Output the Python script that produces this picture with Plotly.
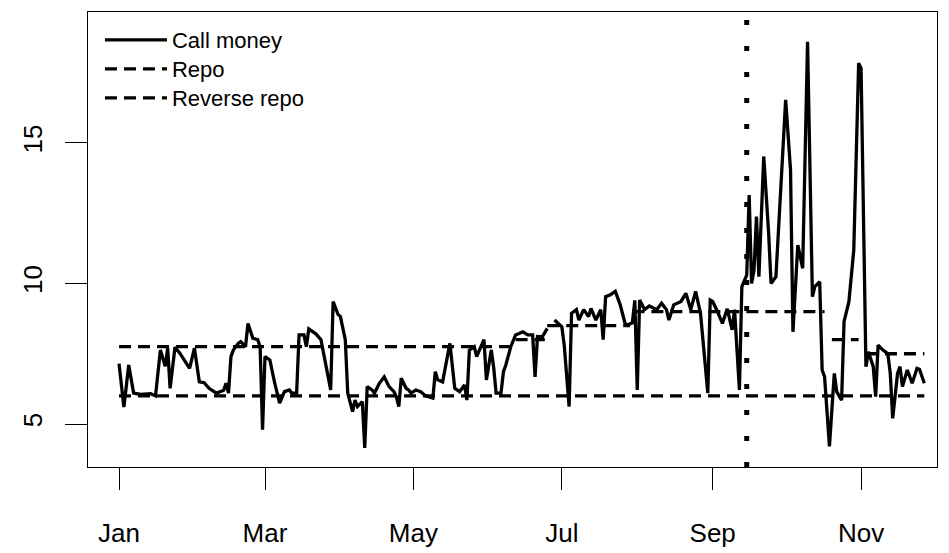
import plotly.graph_objects as go

# ---- data -------------------------------------------------------------
call_dates = [
    "2008-01-01", "2008-01-03", "2008-01-05", "2008-01-07", "2008-01-10", "2008-01-14",
    "2008-01-16", "2008-01-18", "2008-01-20", "2008-01-21", "2008-01-22", "2008-01-24",
    "2008-01-26", "2008-01-30", "2008-02-01", "2008-02-03", "2008-02-05", "2008-02-07",
    "2008-02-10", "2008-02-13", "2008-02-14", "2008-02-15", "2008-02-16", "2008-02-17",
    "2008-02-19", "2008-02-20", "2008-02-22", "2008-02-23", "2008-02-25", "2008-02-27",
    "2008-02-28", "2008-02-29", "2008-03-01", "2008-03-03", "2008-03-05", "2008-03-07",
    "2008-03-09", "2008-03-11", "2008-03-12", "2008-03-14", "2008-03-15", "2008-03-17",
    "2008-03-18", "2008-03-19", "2008-03-22", "2008-03-24", "2008-03-28", "2008-03-29",
    "2008-03-31", "2008-04-01", "2008-04-03", "2008-04-04", "2008-04-06", "2008-04-07",
    "2008-04-08", "2008-04-10", "2008-04-11", "2008-04-12", "2008-04-14", "2008-04-15",
    "2008-04-17", "2008-04-19", "2008-04-21", "2008-04-23", "2008-04-24", "2008-04-25",
    "2008-04-26", "2008-04-28", "2008-04-29", "2008-04-30", "2008-05-02", "2008-05-04",
    "2008-05-06", "2008-05-09", "2008-05-10", "2008-05-11", "2008-05-13", "2008-05-16",
    "2008-05-18", "2008-05-20", "2008-05-22", "2008-05-23", "2008-05-24", "2008-05-26",
    "2008-05-27", "2008-05-30", "2008-05-31", "2008-06-02", "2008-06-03", "2008-06-04",
    "2008-06-06", "2008-06-07", "2008-06-08", "2008-06-10", "2008-06-12", "2008-06-15",
    "2008-06-17", "2008-06-19", "2008-06-20", "2008-06-21", "2008-06-23", "2008-06-25",
    "2008-06-26", "2008-06-28", "2008-07-01", "2008-07-02", "2008-07-04", "2008-07-05",
    "2008-07-07", "2008-07-08", "2008-07-10", "2008-07-12", "2008-07-13", "2008-07-15",
    "2008-07-17", "2008-07-18", "2008-07-19", "2008-07-21", "2008-07-23", "2008-07-25",
    "2008-07-27", "2008-07-28", "2008-07-30", "2008-07-31", "2008-08-01", "2008-08-02",
    "2008-08-04", "2008-08-06", "2008-08-09", "2008-08-11", "2008-08-13", "2008-08-14",
    "2008-08-16", "2008-08-19", "2008-08-21", "2008-08-23", "2008-08-25", "2008-08-27",
    "2008-08-30", "2008-08-31", "2008-09-01", "2008-09-03", "2008-09-05", "2008-09-07",
    "2008-09-09", "2008-09-10", "2008-09-12", "2008-09-13", "2008-09-15", "2008-09-16",
    "2008-09-17", "2008-09-18", "2008-09-19", "2008-09-20", "2008-09-22", "2008-09-24",
    "2008-09-25", "2008-09-27", "2008-09-29", "2008-10-01", "2008-10-03", "2008-10-04",
    "2008-10-06", "2008-10-08", "2008-10-10", "2008-10-12", "2008-10-13", "2008-10-15",
    "2008-10-16", "2008-10-17", "2008-10-19", "2008-10-21", "2008-10-22", "2008-10-24",
    "2008-10-25", "2008-10-27", "2008-10-29", "2008-10-31", "2008-11-01", "2008-11-03",
    "2008-11-04", "2008-11-06", "2008-11-07", "2008-11-08", "2008-11-10", "2008-11-12",
    "2008-11-13", "2008-11-14", "2008-11-16", "2008-11-17", "2008-11-18", "2008-11-20",
    "2008-11-22", "2008-11-24", "2008-11-25", "2008-11-27",
]
call_rate = [
    7.15, 5.60, 7.10, 6.10, 6.05, 6.08,
    6.00, 7.63, 7.05, 7.70, 6.27, 7.73,
    7.52, 6.98, 7.70, 6.50, 6.47, 6.27,
    6.10, 6.20, 6.45, 6.10, 7.40, 7.63,
    7.87, 7.93, 7.75, 8.58, 8.05, 8.00,
    7.75, 4.80, 7.40, 7.28, 6.45, 5.74,
    6.15, 6.21, 6.10, 6.10, 8.17, 8.17,
    7.75, 8.38, 8.20, 8.00, 6.21, 9.36,
    8.90, 8.82, 8.00, 6.10, 5.44, 5.85,
    5.62, 5.80, 4.15, 6.33, 6.21, 6.10,
    6.45, 6.68, 6.33, 6.15, 5.97, 5.62,
    6.63, 6.27, 6.21, 6.10, 6.21, 6.15,
    6.00, 5.92, 6.86, 6.57, 6.50, 7.87,
    6.27, 6.15, 6.39, 5.85, 7.63, 7.75,
    7.40, 8.00, 6.57, 7.63, 7.00, 6.10,
    6.10, 6.86, 7.10, 7.75, 8.17, 8.28,
    8.17, 8.17, 6.68, 8.11, 8.10, 8.40,
    None, 8.70, 8.46, 7.80, 5.62, 8.94,
    9.07, 8.70, 9.07, 8.82, 9.11, 8.70,
    9.07, 8.00, 9.53, 9.60, 9.72, 9.24,
    8.58, 8.52, 8.60, 9.40, 6.21, 9.41,
    9.07, 9.20, 9.07, 9.30, 9.07, 8.70,
    9.24, 9.36, 9.65, 9.07, 9.72, 8.94,
    6.10, 9.41, 9.36, 9.00, 8.58, 9.10,
    8.35, 9.07, 6.21, 9.89, 10.30, 13.15,
    10.00, 10.48, 12.38, 10.24, 14.52, 11.80,
    10.00, 10.24, 13.30, 16.53, 14.04, 8.28,
    11.37, 10.54, 18.60, 9.53, 9.89, 10.06,
    6.92, 6.68, 4.20, 6.80, 6.15, 5.85,
    8.64, 9.35, 11.19, 17.84, 17.66, 7.04,
    7.57, 7.04, 5.97, 7.81, 7.63, 7.50,
    6.80, 5.20, 6.80, 7.04, 6.33, 6.92,
    6.45, 6.98, 6.95, 6.45,
]

repo_start = ["2008-01-01", "2008-06-12", "2008-06-25", "2008-07-30", "2008-10-20", "2008-11-03"]
repo_end = ["2008-06-11", "2008-06-24", "2008-07-29", "2008-10-17", "2008-10-31", "2008-11-27"]
repo_rate = [7.75, 8.00, 8.50, 9.00, 8.00, 7.50]

rev_start = ["2008-01-01"]
rev_end = ["2008-11-27"]
rev_rate = [6.00]

event_date = "2008-09-15"

tick_dates = ["2008-01-01", "2008-03-01", "2008-05-01", "2008-07-01", "2008-09-01", "2008-11-01"]
tick_labels = ["Jan", "Mar", "May", "Jul", "Sep", "Nov"]
y_ticks = [5, 10, 15]


def steps(starts, ends, rates):
    xs, ys = [], []
    for s, e, r in zip(starts, ends, rates):
        xs += [s, e, None]
        ys += [r, r, None]
    return xs, ys


FONT = "Liberation Sans, Arial, Helvetica, sans-serif"
DASH = "12px,7px"
LW = 3.3

fig = go.Figure()
fig.add_trace(go.Scatter(
    x=call_dates, y=call_rate, mode="lines", name="Call money",
    line=dict(color="black", width=LW), connectgaps=False, legend="legend",
))
rx, ry = steps(repo_start, repo_end, repo_rate)
fig.add_trace(go.Scatter(
    x=rx, y=ry, mode="lines", name="Repo",
    line=dict(color="black", width=LW, dash=DASH), connectgaps=False, legend="legend2",
))
vx, vy = steps(rev_start, rev_end, rev_rate)
fig.add_trace(go.Scatter(
    x=vx, y=vy, mode="lines", name="Reverse repo",
    line=dict(color="black", width=LW, dash=DASH), connectgaps=False, legend="legend3",
))

fig.add_shape(
    type="line", xref="x", yref="paper", x0=event_date, x1=event_date, y0=0, y1=1,
    line=dict(color="black", width=5, dash="5px,21px"), layer="above",
)

axis_common = dict(
    showline=True, linecolor="black", linewidth=1.3, mirror=True,
    ticks="outside", ticklen=22, tickwidth=1.3, tickcolor="black",
    showgrid=False, zeroline=False, automargin=False,
    tickfont=dict(family=FONT, size=26, color="black"),
)


def legend_box(ytop):
    return dict(
        x=0.0141, y=ytop, xanchor="left", yanchor="top",
        bgcolor="rgba(0,0,0,0)", borderwidth=0,
        font=dict(family=FONT, size=22, color="black"),
        itemwidth=62, tracegroupgap=0,
    )


fig.update_layout(
    width=941, height=545,
    margin=dict(l=80, r=12, t=4, b=86),
    paper_bgcolor="white", plot_bgcolor="white",
    font=dict(family=FONT, color="black"),
    showlegend=True,
    legend=legend_box(0.9846),
    legend2=legend_box(0.9209),
    legend3=legend_box(0.8571),
    xaxis=dict(
        type="date", range=["2007-12-19 06:00", "2008-12-02 05:00"],
        tickmode="array", tickvals=tick_dates, ticktext=tick_labels,
        ticklabelstandoff=21, **axis_common,
    ),
    yaxis=dict(
        range=[3.47, 19.66], tickmode="array", tickvals=y_ticks,
        ticktext=[str(v) for v in y_ticks], tickangle=-90,
        ticklabelstandoff=12, **axis_common,
    ),
)

fig.write_html("out.html")
